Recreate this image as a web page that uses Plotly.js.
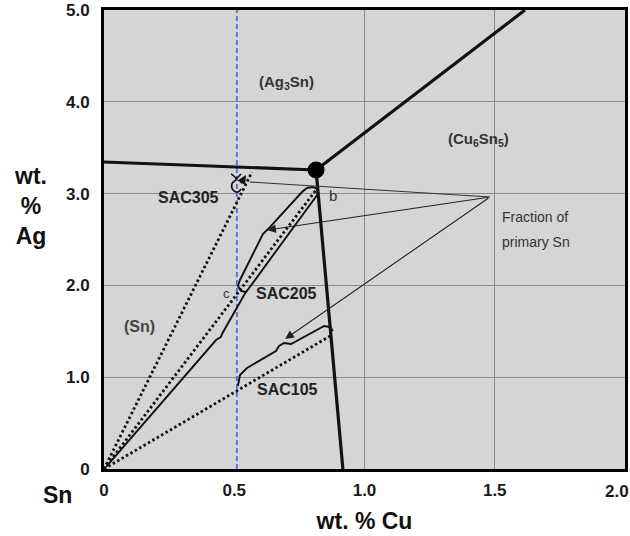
<!DOCTYPE html>
<html>
<head>
<meta charset="utf-8">
<script src="https://cdn.plot.ly/plotly-3.0.1.min.js"></script>
<style>html,body{margin:0;padding:0;background:#fff;}#chart{width:630px;height:536px;}</style>
</head>
<body>
<div id="chart"></div>
<script>
// ---- axis ticks ----
const cuTickVals = [0, 0.5, 1.0, 1.5];
const cuTickText = ['0', '0.5', '1.0', '1.5'];
const cuGridVals = [1.0, 1.5];
const agTickVals = [0, 1, 2, 3, 4, 5];
const agTickText = ['0', '1.0', '2.0', '3.0', '4.0', '5.0'];

// ---- reference composition line (wt.% Cu) ----
const refCu = [0.51, 0.51];
const refAg = [0, 5];

// ---- phase boundaries (eutectic troughs) ----
const eutecticCu = [0.814];
const eutecticAg = [3.257];
const troughAgCu = [0, 0.814];       const troughAgAg = [3.344, 3.257];
const troughUpCu = [0.814, 1.616];   const troughUpAg = [3.257, 5.0];
const troughDownCu = [0.814, 0.917]; const troughDownAg = [3.257, 0];

// ---- alloy composition lines (dotted, from Sn corner) ----
const sac305LineCu = [0, 0.568]; const sac305LineAg = [0, 3.235];
const sac205LineCu = [0, 0.814]; const sac205LineAg = [0, 3.039];
const sac105LineCu = [0, 0.868]; const sac105LineAg = [0, 1.449];

// ---- solidification paths (solid) ----
const sac205PathCu = [0.008, 0.430, 0.449, 0.453, 0.540, 0.821, 0.818, 0.802, 0.779, 0.760, 0.630, 0.610, 0.522, 0.514, 0.526, 0.545];
const sac205PathAg = [0.022, 1.405, 1.438, 1.471, 1.906, 2.996, 3.050, 3.072, 3.061, 3.017, 2.614, 2.560, 2.059, 1.993, 1.939, 1.928];
const sac105PathCu = [0.514, 0.522, 0.549, 0.660, 0.672, 0.691, 0.718, 0.845, 0.868, 0.879];
const sac105PathAg = [0.904, 1.024, 1.100, 1.285, 1.340, 1.373, 1.362, 1.558, 1.547, 1.503];
const sac305CurlCu = [0.488, 0.507, 0.491, 0.495, 0.514, 0.526];
const sac305CurlAg = [3.214, 3.159, 3.105, 3.039, 3.017, 3.050];
const sac305TickCu = [0.507, 0.526];
const sac305TickAg = [3.159, 3.214];

// ---- "fraction of primary Sn" construction lines ----
const fractionCu = 1.482, fractionAg = 2.963;
const fracLine305Cu = [0.560, fractionCu]; const fracLine305Ag = [3.126, fractionAg];
const fracArrowCu = [0.626, 0.695];        const fracArrowAg = [2.603, 1.416];
const sac305ArrowHead = [0.545, 3.203];    const sac305ArrowTail = [0.522, 3.094];

// ---- labels ----
const labelText = ['(Ag<sub>3</sub>Sn)', '(Cu<sub>6</sub>Sn<sub>5</sub>)', 'SAC305', 'SAC205', 'SAC105', '(Sn)', 'b', 'c'];
const labelCu   = [0.699, 1.436, 0.326, 0.702, 0.706, 0.138, 0.879, 0.472];
const labelAg   = [4.205, 3.584, 2.963, 1.917, 0.861, 1.547, 2.974, 1.917];
const labelSize = [15, 15, 16, 16, 16, 16, 15, 13];
const labelBold = [true, true, true, true, true, true, false, false];
const labelColor = ['#333', '#333', '#222', '#222', '#222', '#444', '#333', '#333'];
const fractionLabel = ['Fraction of', 'primary Sn'];
const fractionLabelCu = [1.520, 1.520];
const fractionLabelAg = [2.745, 2.473];

const black = '#111';
const dotted = '2.5px,2.6px';

function line(x, y, width, dash, color) {
  return {x: x, y: y, type: 'scatter', mode: 'lines', hoverinfo: 'skip',
          line: {color: color || black, width: width, dash: dash || 'solid'}};
}

const traces = [
  line(refCu, refAg, 1.8, '5px,3px', '#5566e6'),
  line(troughAgCu, troughAgAg, 3.2),
  line(troughUpCu, troughUpAg, 3.2),
  line(troughDownCu, troughDownAg, 3.2),
  line(sac305LineCu, sac305LineAg, 2.8, dotted),
  line(sac205LineCu, sac205LineAg, 2.8, dotted),
  line(sac105LineCu, sac105LineAg, 2.8, dotted),
  line(sac205PathCu, sac205PathAg, 1.9),
  line(sac105PathCu, sac105PathAg, 1.9),
  Object.assign(line(sac305CurlCu, sac305CurlAg, 1.6), {line: {color: black, width: 1.6, shape: 'spline'}}),
  line(sac305TickCu, sac305TickAg, 1.6),
  line(fracLine305Cu, fracLine305Ag, 1.1, 'solid', '#333'),
  {x: eutecticCu, y: eutecticAg, type: 'scatter', mode: 'markers', hoverinfo: 'skip',
   marker: {color: '#000', size: 17}}
];

const annotations = [];
for (let i = 0; i < labelText.length; i++) {
  annotations.push({x: labelCu[i], y: labelAg[i], xref: 'x', yref: 'y', text: labelText[i], showarrow: false,
    xanchor: 'center', yanchor: 'middle',
    font: {family: 'Liberation Sans, Arial, sans-serif', size: labelSize[i], color: labelColor[i], weight: labelBold[i] ? 'bold' : 'normal'}});
}
for (let i = 0; i < fractionLabel.length; i++) {
  annotations.push({x: fractionLabelCu[i], y: fractionLabelAg[i], xref: 'x', yref: 'y', text: fractionLabel[i],
    showarrow: false, xanchor: 'left', yanchor: 'middle', font: {family: 'Liberation Sans, Arial, sans-serif', size: 14, color: '#333'}});
}
for (let i = 0; i < fracArrowCu.length; i++) {
  annotations.push({x: fracArrowCu[i], y: fracArrowAg[i], xref: 'x', yref: 'y', ax: fractionCu, ay: fractionAg,
    axref: 'x', ayref: 'y', text: '', showarrow: true, arrowhead: 2, arrowsize: 1.6, arrowwidth: 1.1, arrowcolor: '#222', standoff: 0});
}
annotations.push({x: sac305ArrowHead[0], y: sac305ArrowHead[1], xref: 'x', yref: 'y', ax: sac305ArrowTail[0], ay: sac305ArrowTail[1],
  axref: 'x', ayref: 'y', text: '', showarrow: true, arrowhead: 2, arrowsize: 1.3, arrowwidth: 1.4, arrowcolor: '#111', standoff: 0});

// axis-style texts
const titleFont = {family: 'Liberation Sans, Arial, sans-serif', size: 23, color: '#111', weight: 'bold'};
const tickFont = {family: 'Liberation Sans, Arial, sans-serif', size: 17, color: '#1a1a1a', weight: 'bold'};
annotations.push({xref: 'paper', yref: 'paper', x: -0.142, y: 0.573, xanchor: 'center', yanchor: 'middle',
  text: 'wt.<br>%<br>Ag', showarrow: false, font: titleFont, align: 'center'});
annotations.push({xref: 'paper', yref: 'paper', x: -0.090, y: -0.057, xanchor: 'center', yanchor: 'middle',
  text: 'Sn', showarrow: false, font: titleFont});
annotations.push({xref: 'x', yref: 'paper', x: 1.969, y: -0.050, xanchor: 'center', yanchor: 'middle',
  text: '2.0', showarrow: false, font: tickFont});

const layout = {
  width: 630, height: 536,
  margin: {l: 104, r: 5, t: 10, b: 67},
  paper_bgcolor: '#ffffff', plot_bgcolor: '#d5d5d5',
  showlegend: false, hovermode: false,
  xaxis: {range: [0, 2.0], tickvals: cuTickVals, ticktext: cuTickText, ticks: '', showgrid: false, zeroline: false,
    minor: {tickvals: cuGridVals, showgrid: true, gridcolor: '#8a8a8a', gridwidth: 1.2, ticks: ''},
    showline: true, linecolor: '#000', linewidth: 3, mirror: true, tickfont: tickFont, ticklabelstandoff: 4,
    title: {text: 'wt. % Cu', font: titleFont, standoff: 14}, fixedrange: true},
  yaxis: {range: [0, 5.0], tickvals: agTickVals, ticktext: agTickText, ticks: '', showgrid: true, gridcolor: '#8a8a8a', gridwidth: 1.2,
    zeroline: false, showline: true, linecolor: '#000', linewidth: 3, mirror: true, tickfont: tickFont, ticklabelstandoff: 8, fixedrange: true},
  annotations: annotations
};

Plotly.newPlot('chart', traces, layout, {staticPlot: true, displayModeBar: false});
</script>
</body>
</html>
